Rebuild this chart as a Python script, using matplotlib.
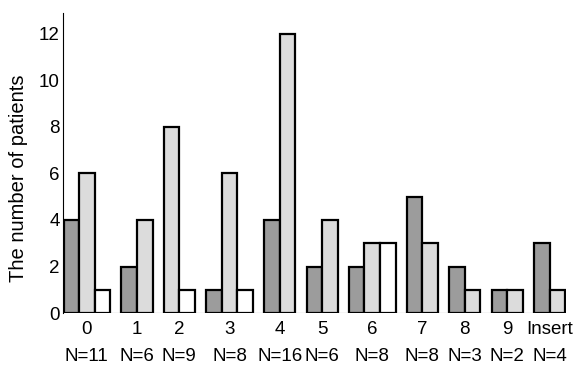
import matplotlib.pyplot as plt
import numpy as np

plt.rcParams['font.family'] = ['Liberation Sans', 'DejaVu Sans']

groups = ['0', '1', '2', '3', '4', '5', '6', '7', '8', '9', 'Insert']
n_labels = ['N=11', 'N=6', 'N=9', 'N=8', 'N=16', 'N=6', 'N=8', 'N=8', 'N=3', 'N=2', 'N=4']
dark = [4, 2, 0, 1, 4, 2, 2, 5, 2, 1, 3]
light = [6, 4, 8, 6, 12, 4, 3, 3, 1, 1, 1]
white = [1, 0, 1, 1, 0, 0, 3, 0, 0, 0, 0]

series = [dark, light, white]
colors = ['#9c9c9c', '#dcdcdc', 'white']

fig = plt.figure(figsize=(5.81, 3.67), dpi=100)
ax = fig.add_axes([0.108, 0.147, 0.866, 0.818])

# bars placed one after another, empty ones skipped, small gap between groups
gap = 0.73
x = 0.0
centers = []
for i in range(len(groups)):
    start = x
    for vals, col in zip(series, colors):
        if vals[i] > 0:
            ax.bar(x, vals[i], width=1.0, align='edge', color=col,
                   edgecolor='black', linewidth=1.6)
            x += 1.0
    centers.append((start + x) / 2)
    x += gap
end = x - gap

ax.axhline(0, color='#444444', linewidth=0.8, zorder=0)
ax.set_xlim(-0.05, end + 0.05)
ax.set_ylim(0, 12.9)
ax.set_yticks(range(0, 13, 2))
ax.set_xticks(centers)
ax.set_xticklabels([g + '\n' + n for g, n in zip(groups, n_labels)],
                   fontsize=13.5, linespacing=1.75)
ax.tick_params(axis='y', length=0, labelsize=13.5, pad=2)
ax.tick_params(axis='x', length=0, pad=6)
for s in ['top', 'right', 'bottom']:
    ax.spines[s].set_visible(False)
ax.spines['left'].set_linewidth(0.8)
ax.set_ylabel('The number of patients', fontsize=14.5)
ax.yaxis.set_label_coords(-0.07, 0.45)

fig.savefig('out.png', dpi=100)
